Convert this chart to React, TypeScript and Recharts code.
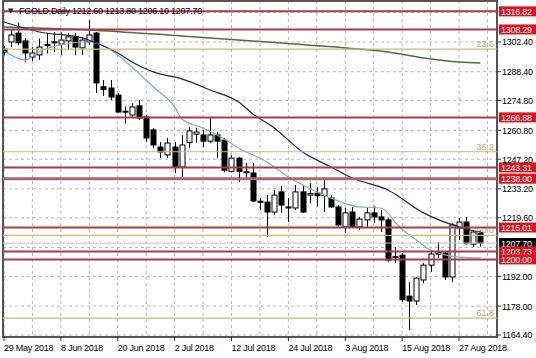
import {
  Bar,
  CartesianGrid,
  ComposedChart,
  Line,
  ReferenceArea,
  ReferenceLine,
  XAxis,
  YAxis,
} from "recharts";

const FONT = "'Liberation Sans', Arial, sans-serif";

// date labels, one every 8 bars
const tickDates = [
  "29 May 2018",
  "8 Jun 2018",
  "20 Jun 2018",
  "2 Jul 2018",
  "12 Jul 2018",
  "24 Jul 2018",
  "3 Aug 2018",
  "15 Aug 2018",
  "27 Aug 2018",
];

const opens = [
  1299.0, 1302.4, 1306.6, 1302.9, 1295.3, 1296.3, 1301.0, 1302.0, 1301.4, 1302.9,
  1304.8, 1299.6, 1302.4, 1306.6, 1281.3, 1280.7, 1277.4, 1269.4, 1268.0, 1272.3,
  1267.1, 1261.0, 1252.9, 1249.2, 1252.9, 1243.5, 1255.0, 1259.0, 1258.6, 1255.7,
  1258.6, 1256.2, 1241.5, 1247.7, 1241.0, 1240.7, 1227.4, 1227.0, 1222.3, 1231.8,
  1224.7, 1224.2, 1231.8, 1230.3, 1231.2, 1230.0, 1228.9, 1224.7, 1215.3, 1222.3,
  1215.3, 1218.6, 1221.9, 1220.0, 1218.6, 1201.1, 1202.0, 1182.7, 1180.4, 1190.3,
  1197.3, 1203.5, 1203.0, 1191.7, 1214.8, 1217.6, 1207.2, 1212.6,
];
const highs = [
  1300.5, 1308.0, 1311.5, 1304.3, 1300.0, 1304.0, 1306.6, 1307.0, 1307.0, 1306.6,
  1306.6, 1304.8, 1312.8, 1307.1, 1284.5, 1284.5, 1278.4, 1272.0, 1273.7, 1275.0,
  1268.0, 1261.9, 1255.3, 1257.2, 1255.3, 1258.6, 1262.4, 1262.0, 1261.0, 1267.0,
  1260.0, 1257.2, 1249.2, 1248.2, 1245.4, 1245.4, 1229.0, 1230.3, 1232.7, 1234.6,
  1229.0, 1235.0, 1235.0, 1236.0, 1234.0, 1237.8, 1230.3, 1225.6, 1224.2, 1224.7,
  1220.0, 1224.2, 1225.2, 1223.3, 1219.5, 1205.8, 1203.0, 1189.3, 1191.7, 1198.3,
  1204.4, 1208.2, 1203.5, 1217.2, 1219.5, 1220.0, 1213.8, 1213.8,
];
const lows = [
  1296.0, 1300.0, 1301.0, 1293.0, 1293.5, 1294.0, 1297.0, 1297.7, 1296.3, 1298.6,
  1296.3, 1296.3, 1301.0, 1278.4, 1277.0, 1275.0, 1268.9, 1264.0, 1267.0, 1265.7,
  1255.3, 1252.5, 1247.8, 1247.8, 1240.7, 1238.8, 1252.5, 1255.0, 1253.0, 1254.8,
  1247.7, 1241.0, 1241.0, 1236.5, 1238.3, 1227.0, 1223.3, 1210.5, 1221.0, 1221.9,
  1217.6, 1223.3, 1221.9, 1226.5, 1225.0, 1222.3, 1224.2, 1215.3, 1212.5, 1214.8,
  1213.8, 1214.8, 1217.2, 1212.9, 1198.8, 1198.3, 1180.0, 1166.7, 1178.5, 1188.9,
  1194.1, 1200.6, 1190.3, 1189.4, 1209.1, 1206.8, 1205.8, 1206.1,
];
const closes = [
  1297.5, 1305.7, 1302.0, 1297.2, 1297.2, 1300.0, 1301.2, 1302.5, 1303.3, 1304.8,
  1300.0, 1303.3, 1305.7, 1283.1, 1280.0, 1276.5, 1269.4, 1269.8, 1271.8, 1266.6,
  1257.2, 1253.9, 1250.6, 1254.8, 1243.5, 1253.9, 1260.5, 1260.0, 1255.7, 1258.6,
  1255.7, 1242.0, 1247.7, 1241.5, 1241.3, 1227.5, 1227.1, 1222.3, 1230.3, 1225.6,
  1224.5, 1231.8, 1222.3, 1231.0, 1230.0, 1233.2, 1224.7, 1216.2, 1221.9, 1215.3,
  1219.0, 1221.9, 1220.0, 1218.6, 1199.7, 1201.3, 1181.0, 1180.4, 1191.2, 1197.3,
  1202.5, 1202.5, 1191.7, 1216.2, 1217.6, 1207.7, 1212.9, 1207.7,
];

// moving averages, read at a few bars
const navyIdx = [0, 5, 11, 13, 16, 18, 21, 25, 29, 33, 35, 38, 42, 46, 49, 54, 59, 64, 66, 67];
const navyVal = [
  1311.8, 1307.1, 1304.3, 1301.9, 1297.2, 1293.0, 1288.3, 1285.0, 1279.8, 1274.1,
  1268.5, 1261.9, 1250.6, 1243.5, 1238.3, 1232.7, 1221.9, 1215.3, 1213.5, 1213.0,
];
const tealIdx = [0, 3, 5, 8, 11, 13, 15, 18, 21, 24, 25, 28, 31, 33, 37, 40, 42, 45, 50, 53, 54, 55, 58, 60, 62, 64, 67];
const tealVal = [
  1298.1, 1293.9, 1298.0, 1301.0, 1302.4, 1301.9, 1298.6, 1290.6, 1281.2, 1271.8,
  1266.1, 1261.9, 1256.7, 1252.5, 1245.9, 1238.8, 1235.0, 1230.3, 1224.7, 1224.2,
  1221.9, 1217.6, 1209.1, 1204.4, 1202.1, 1201.1, 1200.7,
];
const greenIdx = [0, 12, 25, 39, 50, 54, 59, 64, 67];
const greenVal = [1309.5, 1308.1, 1305.2, 1301.9, 1299.1, 1297.7, 1294.9, 1293.0, 1292.5];

const levelPrices = [1316.82, 1308.29, 1266.88, 1243.31, 1238.0, 1215.01, 1203.73, 1200.0];
const fibNames = ["23.6", "38.2", "50.0", "61.8"];
const fibPrices = [1299.0, 1250.7, 1211.3, 1172.3];
const lastPrice = 1207.7;

const yTicks = [1316.4, 1302.4, 1288.4, 1274.8, 1260.8, 1247.2, 1233.2, 1219.6, 1205.6, 1192.0, 1178.0, 1164.4];
const hiddenTicks = [1316.4, 1205.6];
const xTicks = Array.from({ length: 18 }, (_, k) => k * 4);

const X_DOMAIN = [-0.14, 69.34];
const Y_DOMAIN = [1163.45, 1321.7];

const bars = opens.map((o, i) => ({
  i,
  open: o,
  high: highs[i],
  low: lows[i],
  close: closes[i],
  range: [lows[i], highs[i]],
}));

const toPts = (idx: number[], val: number[]) => idx.map((i, k) => ({ i, v: val[k] }));

function Candle(props: any) {
  const { x, y, width, height, payload } = props;
  if (!payload || height == null) return null;
  const { open, close, high, low } = payload;
  const cx = Math.round(x + width / 2) + 0.5;
  const k = height / (high - low || 1);
  const py = (v: number) => y + (high - v) * k;
  const top = py(Math.max(open, close));
  const bot = py(Math.min(open, close));
  const bull = close > open;
  return (
    <g>
      <line x1={cx} x2={cx} y1={y} y2={y + height} stroke="#000" strokeWidth={1} />
      <rect
        x={cx - 2.5}
        y={top}
        width={5}
        height={Math.max(bot - top, 1)}
        fill={bull ? "#fff" : "#000"}
        stroke="#000"
        strokeWidth={1}
      />
    </g>
  );
}

function XTick(props: any) {
  const { x, y, payload } = props;
  const v = payload.value;
  if (v % 8 !== 0) return null;
  return (
    <g>
      <line x1={x} x2={x} y1={y} y2={y + 4} stroke="#333" />
      <text x={x} y={y + 14} fontSize={9} letterSpacing={-0.25} fill="#000" fontFamily={FONT}>
        {tickDates[v / 8]}
      </text>
    </g>
  );
}

function YTick(props: any) {
  const { x, y, payload } = props;
  if (hiddenTicks.includes(payload.value)) return null;
  return (
    <g>
      <line x1={x} x2={x + 4} y1={y} y2={y} stroke="#333" />
      <text x={x + 5} y={y + 3.5} fontSize={9} letterSpacing={-0.25} fill="#000" fontFamily={FONT}>
        {payload.value.toFixed(2)}
      </text>
    </g>
  );
}

function PriceTag(props: any) {
  const { viewBox, text, bg } = props;
  if (!viewBox) return null;
  const right = viewBox.x + viewBox.width;
  const y = viewBox.y;
  return (
    <g>
      <rect x={right + 2} y={y - 5} width={37} height={10} fill={bg} />
      <text x={right + 4} y={y + 3.5} fontSize={9} letterSpacing={-0.25} fill="#fff" fontFamily={FONT}>
        {text}
      </text>
    </g>
  );
}

function FibTag(props: any) {
  const { viewBox, text } = props;
  if (!viewBox) return null;
  return (
    <text
      x={viewBox.x + viewBox.width - 3}
      y={viewBox.y - 2}
      textAnchor="end"
      fontSize={9}
      fill="#bfa86c"
      fontFamily={FONT}
    >
      {text}
    </text>
  );
}

export default function App() {
  return (
    <div style={{ position: "absolute", left: 0, top: 0, width: 536, height: 358, background: "#fff" }}>
      <ComposedChart width={536} height={358} data={bars} margin={{ top: 1, right: 0, bottom: 0, left: 3 }}>
        <CartesianGrid stroke="#b8b8b8" strokeDasharray="3 3" />
        <XAxis
          dataKey="i"
          type="number"
          domain={X_DOMAIN}
          ticks={xTicks}
          interval={0}
          allowDataOverflow
          height={21}
          tickSize={0}
          tickMargin={0}
          tickLine={false}
          axisLine={false}
          tick={<XTick />}
        />
        <YAxis
          orientation="right"
          type="number"
          domain={Y_DOMAIN}
          ticks={yTicks}
          interval={0}
          allowDataOverflow
          width={39}
          tickSize={0}
          tickMargin={0}
          tickLine={false}
          axisLine={false}
          tick={<YTick />}
        />
        <Bar dataKey="range" barSize={5} shape={<Candle />} isAnimationActive={false} />
        <Line data={toPts(greenIdx, greenVal)} dataKey="v" type="monotone" stroke="#4f6f3f" strokeWidth={1.5} dot={false} activeDot={false} isAnimationActive={false} />
        <Line data={toPts(tealIdx, tealVal)} dataKey="v" type="monotone" stroke="#7fb0b6" strokeWidth={1.2} dot={false} activeDot={false} isAnimationActive={false} />
        <Line data={toPts(navyIdx, navyVal)} dataKey="v" type="monotone" stroke="#22225e" strokeWidth={1.2} dot={false} activeDot={false} isAnimationActive={false} />
        {fibPrices.map((p, k) => (
          <ReferenceLine key={"f" + k} y={p} stroke="#c9b97a" strokeWidth={1.2} label={<FibTag text={fibNames[k]} />} />
        ))}
        <ReferenceLine y={lastPrice} stroke="#c4c4c4" strokeWidth={1} label={<PriceTag text={lastPrice.toFixed(2)} bg="#000" />} />
        {levelPrices.map((p, k) => (
          <ReferenceLine
            key={"l" + k}
            y={p}
            stroke={p === 1238.0 ? "#a46a6e" : "#a33c4c"}
            strokeWidth={p === 1238.0 ? 3 : 2}
            label={<PriceTag text={p.toFixed(2)} bg="#e3111b" />}
          />
        ))}
        <ReferenceArea
          x1={X_DOMAIN[0]}
          x2={X_DOMAIN[1]}
          y1={Y_DOMAIN[0]}
          y2={Y_DOMAIN[1]}
          fill="none"
          fillOpacity={0}
          stroke="#555"
          strokeWidth={2}
        />
      </ComposedChart>
      <svg width={536} height={20} style={{ position: "absolute", left: 0, top: 0 }}>
        <text x={8} y={13} fontSize={7} fill="#222" fontFamily="'DejaVu Sans'">
          ▼
        </text>
        <text x={19} y={14} fontSize={9} letterSpacing={-0.25} fill="#000" fontFamily={FONT}>
          FGOLD,Daily  1212.60 1213.80 1206.10 1207.70
        </text>
      </svg>
    </div>
  );
}
